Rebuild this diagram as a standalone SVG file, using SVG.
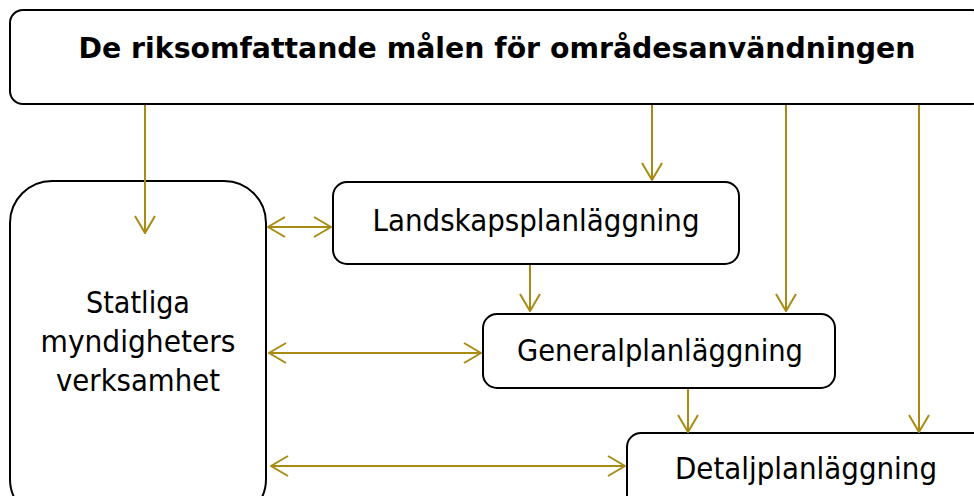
<svg xmlns="http://www.w3.org/2000/svg" width="974" height="496" viewBox="0 0 974 496">
<style>
.box{fill:#fff;stroke:#000;stroke-width:2}
.t{font-family:"DejaVu Sans","Liberation Sans",sans-serif;font-size:30px;fill:#000;text-anchor:middle}
.b{font-weight:bold;font-size:29px}
.c{stroke:#A88B12;stroke-width:2;fill:none}
</style>
<defs>
<marker id="ah" viewBox="0 0 19 22" refX="18" refY="11" markerWidth="19" markerHeight="22" markerUnits="userSpaceOnUse" orient="auto-start-reverse">
<path d="M1,1 L18,11 L1,21" fill="none" stroke="#A88B12" stroke-width="2"/>
</marker>
</defs>
<g id="top"><rect class="box" x="10" y="10" width="975" height="94" rx="13"/>
<text class="t b" x="497" y="58" textLength="837" lengthAdjust="spacingAndGlyphs">De riksomfattande målen för områdesanvändningen</text></g>
<g id="statliga"><rect class="box" x="10" y="181" width="256" height="340" rx="42"/>
<text class="t" x="138" y="313" textLength="104" lengthAdjust="spacingAndGlyphs">Statliga</text>
<text class="t" x="138" y="352" textLength="195" lengthAdjust="spacingAndGlyphs">myndigheters</text>
<text class="t" x="138" y="391" textLength="164" lengthAdjust="spacingAndGlyphs">verksamhet</text></g>
<g id="landskap"><rect class="box" x="333" y="182" width="406" height="82" rx="14"/>
<text class="t" x="536" y="231" textLength="327" lengthAdjust="spacingAndGlyphs">Landskapsplanläggning</text></g>
<g id="general"><rect class="box" x="483" y="314" width="352" height="74" rx="14"/>
<text class="t" x="660" y="361" textLength="286" lengthAdjust="spacingAndGlyphs">Generalplanläggning</text></g>
<g id="detalj"><rect class="box" x="627" y="433" width="360" height="80" rx="14"/>
<text class="t" x="806" y="479" textLength="262" lengthAdjust="spacingAndGlyphs">Detaljplanläggning</text></g>
<g id="connectors">
<line class="c" x1="145" y1="105" x2="145" y2="233" marker-end="url(#ah)"/>
<line class="c" x1="652" y1="105" x2="652" y2="180" marker-end="url(#ah)"/>
<line class="c" x1="786" y1="105" x2="786" y2="311" marker-end="url(#ah)"/>
<line class="c" x1="919" y1="105" x2="919" y2="432" marker-end="url(#ah)"/>
<line class="c" x1="530" y1="265" x2="530" y2="311" marker-end="url(#ah)"/>
<line class="c" x1="688" y1="389" x2="688" y2="432" marker-end="url(#ah)"/>
<line class="c" x1="268" y1="227" x2="331" y2="227" marker-start="url(#ah)" marker-end="url(#ah)"/>
<line class="c" x1="269" y1="353" x2="481" y2="353" marker-start="url(#ah)" marker-end="url(#ah)"/>
<line class="c" x1="271" y1="466" x2="625" y2="466" marker-start="url(#ah)" marker-end="url(#ah)"/>
</g>
</svg>
